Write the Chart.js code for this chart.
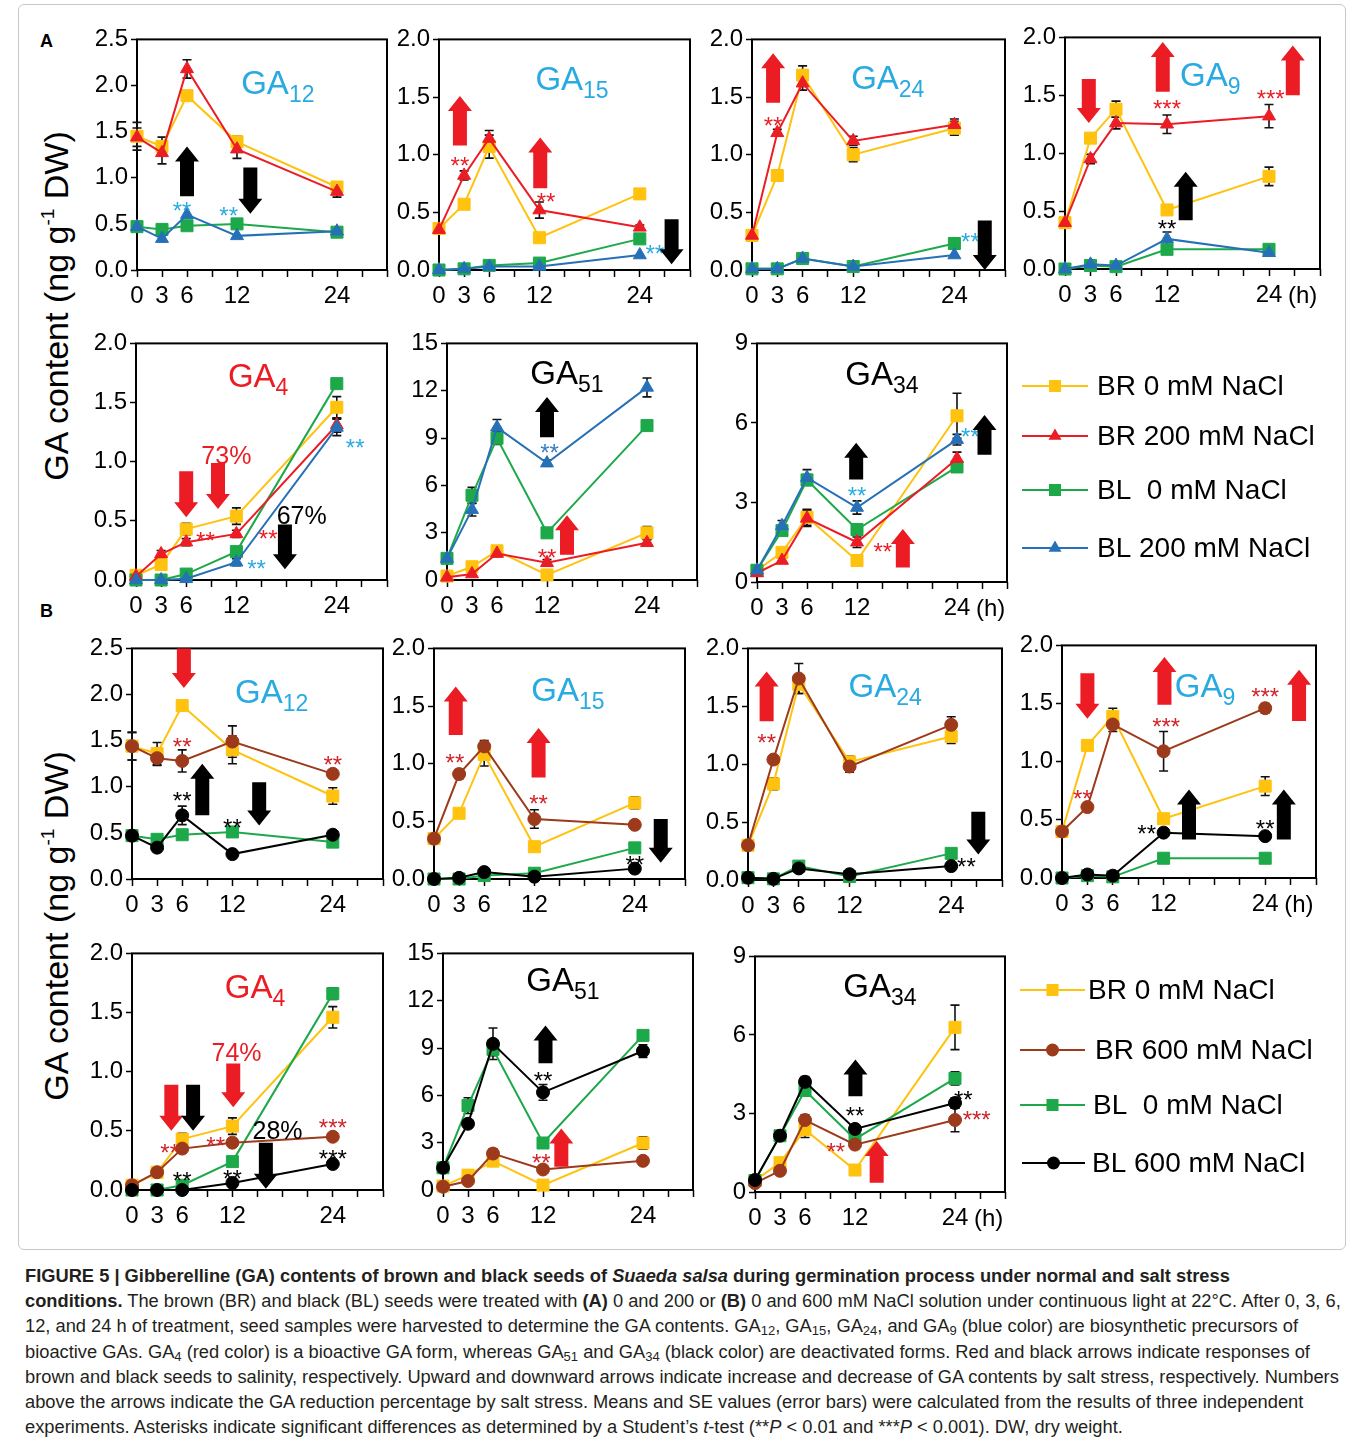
<!DOCTYPE html>
<html>
<head>
<meta charset="utf-8">
<script src="https://cdn.jsdelivr.net/npm/chart.js@4.4.1/dist/chart.umd.min.js"></script>
<style>
  body { margin: 0; background: #fff; width: 1358px; height: 1442px; position: relative; overflow: hidden;
         font-family: "Liberation Sans", Arial, Helvetica, sans-serif; }
  canvas { position: absolute; }
  .frame { position: absolute; left: 18px; top: 4px; width: 1326px; height: 1244px; border: 1px solid #c8c8c8; border-radius: 6px; }
  .plabel { position: absolute; font-weight: bold; font-size: 18px; }
  .ytitle { position: absolute; transform: translate(-50%, -50%) rotate(-90deg); white-space: nowrap; font-size: 34px; line-height: 1; }
  .ytitle span { font-size: 19px; position: relative; top: -14px; }
  #cap { position: absolute; left: 25px; top: 1263px; font-size: 18.3px; line-height: 25.2px; color: #231f20; white-space: nowrap; }
  #cap sub { font-size: 13px; vertical-align: -3px; line-height: 0; }
</style>
</head>
<body>
<div class="frame"></div>
<div class="plabel" style="left:40px;top:31px">A</div>
<div class="plabel" style="left:40px;top:601px">B</div>
<div class="ytitle" style="left:56px;top:306px">GA content (ng g<span>-1</span> DW)</div>
<div class="ytitle" style="left:56px;top:926px">GA content (ng g<span>-1</span> DW)</div>
<div id="cap">
  <div><b>FIGURE 5 | Gibberelline (GA) contents of brown and black seeds of <i>Suaeda salsa</i> during germination process under normal and salt stress</b></div>
  <div><b>conditions.</b> The brown (BR) and black (BL) seeds were treated with <b>(A)</b> 0 and 200 or <b>(B)</b> 0 and 600 mM NaCl solution under continuous light at 22°C. After 0, 3, 6,</div>
  <div>12, and 24 h of treatment, seed samples were harvested to determine the GA contents. GA<sub>12</sub>, GA<sub>15</sub>, GA<sub>24</sub>, and GA<sub>9</sub> (blue color) are biosynthetic precursors of</div>
  <div>bioactive GAs. GA<sub>4</sub> (red color) is a bioactive GA form, whereas GA<sub>51</sub> and GA<sub>34</sub> (black color) are deactivated forms. Red and black arrows indicate responses of</div>
  <div>brown and black seeds to salinity, respectively. Upward and downward arrows indicate increase and decrease of GA contents by salt stress, respectively. Numbers</div>
  <div>above the arrows indicate the GA reduction percentage by salt stress. Means and SE values (error bars) were calculated from the results of three independent</div>
  <div>experiments. Asterisks indicate significant differences as determined by a Student’s <i>t</i>-test (**<i>P</i> &lt; 0.01 and ***<i>P</i> &lt; 0.001). DW, dry weight.</div>
</div>
<script>
// --- data ---
const hours = [0, 3, 6, 12, 24];
const xLabels = [0, 3, 6, 12, 24];

// A: 0 / 200 mM NaCl
const A_GA12_BR0 = [1.45, 1.34, 1.89, 1.39, 0.90];
const A_GA12_BR200 = [1.44, 1.27, 2.18, 1.31, 0.85];
const A_GA12_BL0 = [0.47, 0.44, 0.48, 0.50, 0.41];
const A_GA12_BL200 = [0.47, 0.34, 0.60, 0.37, 0.42];
const A_GA12_BR0_se = [0.15, 0.10, 0.05, 0.06, 0.05];
const A_GA12_BR200_se = [0.10, 0.12, 0.10, 0.10, 0.06];

const A_GA15_BR0 = [0.36, 0.57, 1.07, 0.28, 0.66];
const A_GA15_BR200 = [0.35, 0.82, 1.14, 0.52, 0.37];
const A_GA15_BL0 = [0.00, 0.01, 0.04, 0.06, 0.27];
const A_GA15_BL200 = [0.00, 0.01, 0.03, 0.03, 0.13];
const A_GA15_BR0_se = [0.02, 0.03, 0.10, 0.02, 0.04];
const A_GA15_BR200_se = [0.02, 0.04, 0.07, 0.07, 0.02];

const A_GA24_BR0 = [0.30, 0.82, 1.69, 1.00, 1.23];
const A_GA24_BR200 = [0.30, 1.19, 1.62, 1.12, 1.26];
const A_GA24_BL0 = [0.01, 0.01, 0.10, 0.03, 0.23];
const A_GA24_BL200 = [0.01, 0.01, 0.10, 0.03, 0.13];
const A_GA24_BR0_se = [0.02, 0.05, 0.08, 0.06, 0.06];
const A_GA24_BR200_se = [0.02, 0.03, 0.06, 0.04, 0.05];

const A_GA9_BR0 = [0.40, 1.13, 1.38, 0.51, 0.80];
const A_GA9_BR200 = [0.40, 0.95, 1.26, 1.25, 1.32];
const A_GA9_BL0 = [0.00, 0.03, 0.02, 0.17, 0.17];
const A_GA9_BL200 = [0.00, 0.04, 0.03, 0.26, 0.14];
const A_GA9_BR0_se = [0.02, 0.03, 0.07, 0.03, 0.08];
const A_GA9_BR200_se = [0.02, 0.04, 0.05, 0.08, 0.10];
const A_GA9_BL200_se = [0.00, 0.01, 0.01, 0.06, 0.02];

const A_GA4_BR0 = [0.04, 0.13, 0.43, 0.54, 1.46];
const A_GA4_BR200 = [0.03, 0.22, 0.32, 0.39, 1.31];
const A_GA4_BL0 = [0.00, 0.00, 0.05, 0.24, 1.66];
const A_GA4_BL200 = [0.00, 0.00, 0.01, 0.15, 1.29];
const A_GA4_BR0_se = [0.01, 0.03, 0.05, 0.07, 0.09];
const A_GA4_BR200_se = [0.01, 0.03, 0.03, 0.03, 0.06];
const A_GA4_BL0_se = [0.00, 0.00, 0.01, 0.02, 0.04];
const A_GA4_BL200_se = [0.00, 0.00, 0.01, 0.03, 0.07];

const A_GA51_BR0 = [0.25, 0.84, 1.85, 0.32, 2.99];
const A_GA51_BR200 = [0.17, 0.38, 1.68, 1.09, 2.36];
const A_GA51_BL0 = [1.37, 5.37, 8.99, 2.99, 9.79];
const A_GA51_BL200 = [1.37, 4.46, 9.68, 7.41, 12.21];
const A_GA51_BR0_se = [0.1, 0.2, 0.2, 0.1, 0.4];
const A_GA51_BR200_se = [0.1, 0.1, 0.2, 0.2, 0.2];
const A_GA51_BL0_se = [0.1, 0.5, 0.4, 0.2, 0.3];
const A_GA51_BL200_se = [0.1, 0.4, 0.5, 0.2, 0.6];

const A_GA34_BR0 = [0.44, 1.12, 2.44, 0.81, 6.27];
const A_GA34_BR200 = [0.34, 0.81, 2.40, 1.50, 4.65];
const A_GA34_BL0 = [0.44, 1.94, 3.85, 1.98, 4.34];
const A_GA34_BL200 = [0.44, 2.12, 3.94, 2.81, 5.37];
const A_GA34_BR0_se = [0.05, 0.10, 0.30, 0.10, 0.85];
const A_GA34_BR200_se = [0.05, 0.10, 0.30, 0.20, 0.25];
const A_GA34_BL0_se = [0.05, 0.15, 0.20, 0.10, 0.20];
const A_GA34_BL200_se = [0.05, 0.20, 0.30, 0.25, 0.20];

// B: 0 / 600 mM NaCl
const B_GA12_BR0 = [1.44, 1.36, 1.88, 1.40, 0.90];
const B_GA12_BR600 = [1.44, 1.31, 1.28, 1.49, 1.14];
const B_GA12_BL0 = [0.47, 0.43, 0.48, 0.51, 0.40];
const B_GA12_BL600 = [0.47, 0.34, 0.69, 0.27, 0.48];
const B_GA12_BR0_se = [0.15, 0.12, 0.05, 0.15, 0.09];
const B_GA12_BR600_se = [0.15, 0.08, 0.12, 0.17, 0.03];
const B_GA12_BL600_se = [0.02, 0.02, 0.10, 0.01, 0.02];

const B_GA15_BR0 = [0.35, 0.57, 1.08, 0.28, 0.66];
const B_GA15_BR600 = [0.35, 0.91, 1.15, 0.52, 0.47];
const B_GA15_BL0 = [0.00, 0.00, 0.03, 0.05, 0.27];
const B_GA15_BL600 = [0.00, 0.01, 0.06, 0.02, 0.09];
const B_GA15_BR0_se = [0.02, 0.03, 0.10, 0.02, 0.05];
const B_GA15_BR600_se = [0.02, 0.04, 0.05, 0.08, 0.01];

const B_GA24_BR0 = [0.30, 0.83, 1.69, 1.02, 1.24];
const B_GA24_BR600 = [0.30, 1.04, 1.74, 0.98, 1.34];
const B_GA24_BL0 = [0.02, 0.01, 0.12, 0.03, 0.23];
const B_GA24_BL600 = [0.02, 0.01, 0.10, 0.05, 0.12];
const B_GA24_BR0_se = [0.02, 0.05, 0.08, 0.05, 0.06];
const B_GA24_BR600_se = [0.02, 0.02, 0.13, 0.05, 0.07];

const B_GA9_BR0 = [0.40, 1.14, 1.39, 0.51, 0.79];
const B_GA9_BR600 = [0.40, 0.61, 1.32, 1.09, 1.46];
const B_GA9_BL0 = [0.00, 0.02, 0.01, 0.17, 0.17];
const B_GA9_BL600 = [0.00, 0.03, 0.02, 0.39, 0.36];
const B_GA9_BR0_se = [0.02, 0.02, 0.07, 0.02, 0.08];
const B_GA9_BR600_se = [0.02, 0.02, 0.06, 0.17, 0.04];

const B_GA4_BR0 = [0.04, 0.15, 0.43, 0.54, 1.46];
const B_GA4_BR600 = [0.04, 0.15, 0.35, 0.40, 0.45];
const B_GA4_BL0 = [0.00, 0.00, 0.04, 0.24, 1.66];
const B_GA4_BL600 = [0.00, 0.00, 0.00, 0.06, 0.22];
const B_GA4_BR0_se = [0.01, 0.02, 0.05, 0.07, 0.09];
const B_GA4_BL0_se = [0.00, 0.00, 0.00, 0.02, 0.05];

const B_GA51_BR0 = [0.25, 0.94, 1.83, 0.31, 2.98];
const B_GA51_BR600 = [0.21, 0.57, 2.31, 1.30, 1.85];
const B_GA51_BL0 = [1.41, 5.35, 8.92, 2.98, 9.80];
const B_GA51_BL600 = [1.41, 4.20, 9.27, 6.19, 8.81];
const B_GA51_BR0_se = [0.1, 0.2, 0.2, 0.1, 0.4];
const B_GA51_BR600_se = [0.1, 0.1, 0.3, 0.2, 0.2];
const B_GA51_BL0_se = [0.1, 0.5, 0.4, 0.2, 0.3];
const B_GA51_BL600_se = [0.1, 0.2, 1.0, 0.5, 0.4];

const B_GA34_BR0 = [0.44, 1.12, 2.38, 0.84, 6.29];
const B_GA34_BR600 = [0.34, 0.81, 2.75, 1.81, 2.75];
const B_GA34_BL0 = [0.44, 2.15, 3.88, 2.02, 4.34];
const B_GA34_BL600 = [0.46, 2.15, 4.21, 2.41, 3.40];
const B_GA34_BR0_se = [0.05, 0.10, 0.30, 0.10, 0.85];
const B_GA34_BR600_se = [0.05, 0.10, 0.20, 0.10, 0.45];
const B_GA34_BL0_se = [0.05, 0.10, 0.20, 0.10, 0.25];
const B_GA34_BL600_se = [0.05, 0.10, 0.20, 0.15, 0.20];

// --- styles ---
const FONT = '"Liberation Sans", Arial, Helvetica, sans-serif';
const YELLOW = '#FFC20E', RED = '#EC1C24', GREEN = '#1DA94A', BLUE = '#2670B7',
      BROWN = '#9C3A1B', BLACK = '#000000', CYAN = '#29ABE2', DRED = '#D1232A';

const STY = {
  BR0:   { color: YELLOW, shape: 'rect', r: 8.5, order: 4, label: 'BR 0 mM NaCl' },
  BR200: { color: RED, shape: 'triangle', r: 7.5, order: 2, label: 'BR 200 mM NaCl' },
  BL0:   { color: GREEN, shape: 'rect', r: 8.5, order: 3, label: 'BL  0 mM NaCl' },
  BL200: { color: BLUE, shape: 'triangle', r: 7.5, order: 1, label: 'BL 200 mM NaCl' },
  BR600: { color: BROWN, shape: 'circle', r: 6.5, order: 2, label: 'BR 600 mM NaCl' },
  BL600: { color: BLACK, shape: 'circle', r: 6.5, order: 1, label: 'BL 600 mM NaCl' }
};

// annotation helpers (data coordinates)
const ar = (x, tail, tip, c) => ({ kind: 'arrow', x, tail, tip, c });
const tx = (x, y, t, c, s) => ({ kind: 'text', x, y, t, c, s: s || 24 });

const panels = [
  { box: [137, 38, 387, 270], yMax: 2.5, yStep: 0.5, dec: 1, name: '12', tc: CYAN, tpos: [16.9, 2.04],
    series: [['BR0', A_GA12_BR0, A_GA12_BR0_se], ['BR200', A_GA12_BR200, A_GA12_BR200_se], ['BL0', A_GA12_BL0], ['BL200', A_GA12_BL200]],
    notes: [ar(6, 0.80, 1.34, BLACK), ar(13.6, 1.11, 0.61, BLACK), tx(5.4, 0.70, '**', CYAN), tx(11, 0.65, '**', CYAN)] },
  { box: [439, 38, 690, 270], yMax: 2, yStep: 0.5, dec: 1, name: '15', tc: CYAN, tpos: [15.9, 1.66],
    series: [['BR0', A_GA15_BR0, A_GA15_BR0_se], ['BR200', A_GA15_BR200, A_GA15_BR200_se], ['BL0', A_GA15_BL0], ['BL200', A_GA15_BL200]],
    notes: [ar(2.5, 1.08, 1.51, RED), tx(2.5, 0.95, '**', RED), ar(12.1, 0.71, 1.15, RED), tx(12.8, 0.64, '**', RED),
            tx(25.8, 0.19, '**', CYAN), ar(27.8, 0.44, 0.05, BLACK)] },
  { box: [752, 38, 1005, 270], yMax: 2, yStep: 0.5, dec: 1, name: '24', tc: CYAN, tpos: [16.1, 1.67],
    series: [['BR0', A_GA24_BR0, A_GA24_BR0_se], ['BR200', A_GA24_BR200, A_GA24_BR200_se], ['BL0', A_GA24_BL0], ['BL200', A_GA24_BL200]],
    notes: [ar(2.5, 1.45, 1.88, RED), tx(2.5, 1.30, '**', RED), tx(25.9, 0.29, '**', CYAN), ar(27.6, 0.43, 0.0, BLACK)] },
  { box: [1065, 36, 1320, 269], yMax: 2, yStep: 0.5, dec: 1, name: '9', tc: CYAN, tpos: [17.1, 1.68], h: true,
    series: [['BR0', A_GA9_BR0, A_GA9_BR0_se], ['BR200', A_GA9_BR200, A_GA9_BR200_se], ['BL0', A_GA9_BL0], ['BL200', A_GA9_BL200, A_GA9_BL200_se]],
    notes: [ar(2.8, 1.64, 1.26, RED), ar(11.5, 1.53, 1.96, RED), tx(12, 1.43, '***', RED), ar(14.2, 0.42, 0.84, BLACK),
            tx(12, 0.40, '**', BLACK), tx(24.2, 1.52, '***', RED), ar(26.8, 1.50, 1.93, RED)] },
  { box: [136, 342, 387, 580], yMax: 2, yStep: 0.5, dec: 1, name: '4', tc: RED, tpos: [14.6, 1.73],
    series: [['BR0', A_GA4_BR0, A_GA4_BR0_se], ['BR200', A_GA4_BR200, A_GA4_BR200_se], ['BL0', A_GA4_BL0, A_GA4_BL0_se], ['BL200', A_GA4_BL200, A_GA4_BL200_se]],
    notes: [ar(6, 0.92, 0.53, RED), ar(9.8, 0.99, 0.60, RED), tx(10.8, 1.06, '73%', RED, 25), tx(8.3, 0.38, '**', RED),
            tx(15.8, 0.40, '**', RED), tx(14.4, 0.14, '**', CYAN), tx(19.8, 0.55, '67%', BLACK, 25), ar(17.8, 0.47, 0.09, BLACK),
            tx(26.2, 1.17, '**', CYAN)] },
  { box: [447, 342, 697, 580], yMax: 15, yStep: 3, dec: 0, name: '51', tc: BLACK, tpos: [14.4, 13.2],
    series: [['BR0', A_GA51_BR0, A_GA51_BR0_se], ['BR200', A_GA51_BR200, A_GA51_BR200_se], ['BL0', A_GA51_BL0, A_GA51_BL0_se], ['BL200', A_GA51_BL200, A_GA51_BL200_se]],
    notes: [ar(12, 9.05, 11.6, BLACK), tx(12.3, 8.4, '**', '#3A7CC2'), ar(14.4, 1.6, 4.1, RED), tx(12, 1.79, '**', RED)] },
  { box: [757, 342, 1007, 582], yMax: 9, yStep: 3, dec: 0, name: '34', tc: BLACK, tpos: [15, 7.88], h: true,
    series: [['BR0', A_GA34_BR0, A_GA34_BR0_se], ['BR200', A_GA34_BR200, A_GA34_BR200_se], ['BL0', A_GA34_BL0, A_GA34_BL0_se], ['BL200', A_GA34_BL200, A_GA34_BL200_se]],
    notes: [ar(11.9, 3.87, 5.25, BLACK), tx(12, 3.45, '**', CYAN), ar(17.5, 0.55, 2.0, RED), tx(15.1, 1.34, '**', RED),
            tx(25.6, 5.69, '**', CYAN), ar(27.3, 4.8, 6.3, BLACK)] },

  { box: [132, 647, 383, 879], yMax: 2.5, yStep: 0.5, dec: 1, name: '12', tc: CYAN, tpos: [16.7, 2.04],
    series: [['BR0', B_GA12_BR0, B_GA12_BR0_se], ['BR600', B_GA12_BR600, B_GA12_BR600_se], ['BL0', B_GA12_BL0], ['BL600', B_GA12_BL600, B_GA12_BL600_se]],
    notes: [ar(6.2, 2.5, 2.07, RED), tx(6, 1.50, '**', DRED), ar(8.4, 0.69, 1.25, BLACK), tx(6, 0.91, '**', BLACK),
            ar(15.2, 1.05, 0.58, BLACK), tx(12, 0.62, '**', BLACK), tx(24, 1.30, '**', DRED)] },
  { box: [434, 647, 685, 879], yMax: 2, yStep: 0.5, dec: 1, name: '15', tc: CYAN, tpos: [16.0, 1.65],
    series: [['BR0', B_GA15_BR0, B_GA15_BR0_se], ['BR600', B_GA15_BR600, B_GA15_BR600_se], ['BL0', B_GA15_BL0], ['BL600', B_GA15_BL600]],
    notes: [ar(2.6, 1.25, 1.67, RED), tx(2.5, 1.06, '**', DRED), ar(12.5, 0.88, 1.31, RED), tx(12.5, 0.70, '**', DRED),
            ar(27.1, 0.52, 0.14, BLACK), tx(24, 0.17, '**', BLACK)] },
  { box: [748, 647, 1002, 880], yMax: 2, yStep: 0.5, dec: 1, name: '24', tc: CYAN, tpos: [16.2, 1.68],
    series: [['BR0', B_GA24_BR0, B_GA24_BR0_se], ['BR600', B_GA24_BR600, B_GA24_BR600_se], ['BL0', B_GA24_BL0], ['BL600', B_GA24_BL600]],
    notes: [ar(2.2, 1.37, 1.80, RED), tx(2.2, 1.23, '**', DRED), ar(27.2, 0.59, 0.22, BLACK), tx(25.8, 0.16, '**', BLACK)] },
  { box: [1062, 644, 1316, 878], yMax: 2, yStep: 0.5, dec: 1, name: '9', tc: CYAN, tpos: [16.9, 1.66], h: true,
    series: [['BR0', B_GA9_BR0, B_GA9_BR0_se], ['BR600', B_GA9_BR600, B_GA9_BR600_se], ['BL0', B_GA9_BL0], ['BL600', B_GA9_BL600]],
    notes: [ar(3.0, 1.76, 1.37, RED), tx(2.4, 0.73, '**', DRED), ar(12.1, 1.49, 1.90, RED), tx(12.3, 1.35, '***', DRED),
            tx(24, 1.61, '***', DRED), ar(28.0, 1.35, 1.79, RED), ar(15.0, 0.33, 0.76, BLACK), tx(10, 0.43, '**', BLACK),
            ar(26.2, 0.33, 0.76, BLACK), tx(24, 0.47, '**', BLACK)] },
  { box: [132, 952, 383, 1190], yMax: 2, yStep: 0.5, dec: 1, name: '4', tc: RED, tpos: [14.7, 1.72],
    series: [['BR0', B_GA4_BR0, B_GA4_BR0_se], ['BR600', B_GA4_BR600], ['BL0', B_GA4_BL0, B_GA4_BL0_se], ['BL600', B_GA4_BL600]],
    notes: [ar(4.7, 0.89, 0.50, RED), ar(7.3, 0.89, 0.50, BLACK), ar(12.1, 1.07, 0.70, RED), tx(12.5, 1.17, '74%', RED, 25),
            tx(4.5, 0.36, '**', DRED), tx(10, 0.42, '**', DRED), tx(17.4, 0.51, '28%', BLACK, 25), ar(16.0, 0.40, 0.01, BLACK),
            tx(6, 0.13, '**', BLACK), tx(12, 0.14, '**', BLACK), tx(24, 0.57, '***', DRED), tx(24, 0.31, '***', BLACK)] },
  { box: [443, 952, 693, 1190], yMax: 15, yStep: 3, dec: 0, name: '51', tc: BLACK, tpos: [14.4, 13.4],
    series: [['BR0', B_GA51_BR0, B_GA51_BR0_se], ['BR600', B_GA51_BR600, B_GA51_BR600_se], ['BL0', B_GA51_BL0, B_GA51_BL0_se], ['BL600', B_GA51_BL600, B_GA51_BL600_se]],
    notes: [ar(12.3, 8.03, 10.43, BLACK), tx(12, 7.28, '**', BLACK), ar(14.2, 1.47, 3.9, RED), tx(11.8, 2.1, '**', DRED)] },
  { box: [755, 955, 1005, 1192], yMax: 9, yStep: 3, dec: 0, name: '34', tc: BLACK, tpos: [15, 7.9], h: true,
    series: [['BR0', B_GA34_BR0, B_GA34_BR0_se], ['BR600', B_GA34_BR600, B_GA34_BR600_se], ['BL0', B_GA34_BL0, B_GA34_BL0_se], ['BL600', B_GA34_BL600, B_GA34_BL600_se]],
    notes: [ar(12.05, 3.66, 5.06, BLACK), tx(12, 3.13, '**', BLACK), tx(25, 3.75, '**', BLACK), tx(26.6, 2.96, '***', DRED),
            tx(9.7, 1.75, '**', DRED), ar(14.6, 0.35, 1.95, RED)] }
];

// --- drawing helpers ---
function blockArrow(ctx, px, yTail, yTip, color) {
  const dir = yTip < yTail ? -1 : 1;
  const sw = 7, hw = 12, hl = 15;
  const neck = yTip - dir * hl;
  ctx.fillStyle = color;
  ctx.beginPath();
  ctx.moveTo(px - sw, yTail);
  ctx.lineTo(px - sw, neck);
  ctx.lineTo(px - hw, neck);
  ctx.lineTo(px, yTip);
  ctx.lineTo(px + hw, neck);
  ctx.lineTo(px + sw, neck);
  ctx.lineTo(px + sw, yTail);
  ctx.closePath();
  ctx.fill();
}

function marker(ctx, shape, x, y, r, color) {
  ctx.fillStyle = color;
  ctx.beginPath();
  if (shape === 'rect') {
    const h = r * Math.SQRT1_2;
    ctx.rect(x - h, y - h, 2 * h, 2 * h);
  } else if (shape === 'triangle') {
    ctx.moveTo(x, y - r);
    ctx.lineTo(x + r * 0.866, y + r / 2);
    ctx.lineTo(x - r * 0.866, y + r / 2);
    ctx.closePath();
  } else {
    ctx.arc(x, y, r, 0, Math.PI * 2);
  }
  ctx.fill();
}

const framePlugin = {
  id: 'frame',
  beforeDatasetsDraw(chart) {
    const a = chart.chartArea, ctx = chart.ctx;
    ctx.save();
    ctx.strokeStyle = '#000';
    ctx.lineWidth = 2;
    ctx.strokeRect(a.left, a.top, a.right - a.left, a.bottom - a.top);
    ctx.restore();
  }
};

const errPlugin = {
  id: 'errBars',
  beforeDatasetsDraw(chart) {
    const ctx = chart.ctx, xs = chart.scales.x, ys = chart.scales.y;
    ctx.save();
    ctx.strokeStyle = '#111';
    ctx.lineWidth = 1.6;
    chart.data.datasets.forEach(ds => {
      if (!ds.err) return;
      ds.data.forEach((pt, i) => {
        const e = ds.err[i];
        if (!e) return;
        const px = xs.getPixelForValue(pt.x);
        const y1 = ys.getPixelForValue(pt.y - e), y2 = ys.getPixelForValue(pt.y + e);
        ctx.beginPath();
        ctx.moveTo(px, y1); ctx.lineTo(px, y2);
        ctx.moveTo(px - 4.5, y1); ctx.lineTo(px + 4.5, y1);
        ctx.moveTo(px - 4.5, y2); ctx.lineTo(px + 4.5, y2);
        ctx.stroke();
      });
    });
    ctx.restore();
  }
};

function notesPlugin(p) {
  return {
    id: 'notes',
    afterDatasetsDraw(chart) {
      const ctx = chart.ctx, xs = chart.scales.x, ys = chart.scales.y, a = chart.chartArea;
      ctx.save();
      p.notes.forEach(n => {
        const px = xs.getPixelForValue(n.x);
        if (n.kind === 'arrow') {
          blockArrow(ctx, px, ys.getPixelForValue(n.tail), ys.getPixelForValue(n.tip), n.c);
        } else {
          ctx.fillStyle = n.c;
          ctx.textAlign = 'center';
          ctx.textBaseline = 'alphabetic';
          ctx.font = n.s + 'px ' + FONT;
          const py = ys.getPixelForValue(n.y);
          const lift = n.t.indexOf('*') === 0 ? 0.58 : 0.36;
          ctx.fillText(n.t, px, py + lift * n.s);
        }
      });
      // title GA + subscript
      const big = 33, small = 23;
      ctx.textAlign = 'left';
      ctx.textBaseline = 'alphabetic';
      ctx.font = big + 'px ' + FONT;
      const w1 = ctx.measureText('GA').width;
      ctx.font = small + 'px ' + FONT;
      const w2 = ctx.measureText(p.name).width;
      const cx = xs.getPixelForValue(p.tpos[0]) - (w1 + w2) / 2;
      const base = ys.getPixelForValue(p.tpos[1]) + 0.36 * big;
      ctx.fillStyle = p.tc;
      ctx.font = big + 'px ' + FONT;
      ctx.fillText('GA', cx, base);
      ctx.font = small + 'px ' + FONT;
      ctx.fillText(p.name, cx + w1, base + 8);
      if (p.h) {
        ctx.fillStyle = '#000';
        ctx.font = '24px ' + FONT;
        ctx.textBaseline = 'middle';
        ctx.fillText('(h)', xs.getPixelForValue(24) + 19, a.bottom + 27);
      }
      ctx.restore();
    }
  };
}

const padL = 64, padT = 16, padR = 16, padB = 46;

function makePanel(p) {
  const w = p.box[2] - p.box[0], h = p.box[3] - p.box[1];
  const cv = document.createElement('canvas');
  cv.width = w + padL + padR;
  cv.height = h + padT + padB;
  cv.style.left = (p.box[0] - padL) + 'px';
  cv.style.top = (p.box[1] - padT) + 'px';
  cv.style.width = cv.width + 'px';
  cv.style.height = cv.height + 'px';
  document.body.appendChild(cv);

  const yTicks = [];
  for (let v = 0; v <= p.yMax + 1e-9; v += p.yStep) yTicks.push(+v.toFixed(2));

  new Chart(cv, {
    type: 'line',
    data: {
      datasets: p.series.map(([key, vals, se]) => ({
        label: STY[key].label,
        data: hours.map((hr, i) => ({ x: hr, y: vals[i] })),
        err: se,
        order: STY[key].order,
        borderColor: STY[key].color,
        backgroundColor: STY[key].color,
        pointBackgroundColor: STY[key].color,
        pointBorderColor: STY[key].color,
        pointBorderWidth: 1,
        pointStyle: STY[key].shape,
        pointRadius: STY[key].r,
        borderWidth: 2,
        tension: 0,
        clip: false
      }))
    },
    options: {
      responsive: false,
      animation: false,
      events: [],
      layout: { padding: { left: 0, top: padT, right: padR, bottom: 0 } },
      plugins: { legend: { display: false }, tooltip: { enabled: false } },
      scales: {
        x: {
          type: 'linear', min: 0, max: 30,
          afterBuildTicks: s => { s.ticks = []; for (let v = 0; v <= 30; v += 3) s.ticks.push({ value: v }); },
          afterFit: s => { s.height = padB; },
          ticks: { autoSkip: false, maxRotation: 0, padding: 5, color: '#000', font: { family: FONT, size: 24 },
                   callback: v => xLabels.includes(v) ? String(v) : '' },
          grid: { drawOnChartArea: false, drawTicks: true, tickLength: 7, tickColor: '#000', tickWidth: 1.5 },
          border: { display: false }
        },
        y: {
          type: 'linear', min: 0, max: p.yMax,
          afterBuildTicks: s => { s.ticks = yTicks.map(v => ({ value: v })); },
          afterFit: s => { s.width = padL; },
          ticks: { padding: 3, color: '#000', font: { family: FONT, size: 24 }, callback: v => Number(v).toFixed(p.dec) },
          grid: { drawOnChartArea: false, drawTicks: true, tickLength: 6, tickColor: '#000', tickWidth: 1.5 },
          border: { display: false }
        }
      }
    },
    plugins: [framePlugin, errPlugin, notesPlugin(p)]
  });
}

panels.forEach(makePanel);

// --- legends ---
function drawLegend(left, top, items) {
  const cv = document.createElement('canvas');
  cv.width = 340; cv.height = 230;
  cv.style.left = left + 'px'; cv.style.top = top + 'px';
  document.body.appendChild(cv);
  const ctx = cv.getContext('2d');
  items.forEach(it => {
    const s = STY[it.key];
    const y = it.y - top;
    ctx.strokeStyle = s.color;
    ctx.lineWidth = 2;
    ctx.beginPath();
    ctx.moveTo(it.x0 - left, y); ctx.lineTo(it.x1 - left, y);
    ctx.stroke();
    marker(ctx, s.shape, (it.x0 + it.x1) / 2 - left, y, s.r, s.color);
    ctx.fillStyle = '#000';
    ctx.font = '28px ' + FONT;
    ctx.textBaseline = 'middle';
    ctx.fillText(s.label, it.tx - left, y + 1);
  });
}

drawLegend(1010, 360, [
  { key: 'BR0', y: 386, x0: 1022, x1: 1088, tx: 1097 },
  { key: 'BR200', y: 436, x0: 1022, x1: 1088, tx: 1097 },
  { key: 'BL0', y: 490, x0: 1022, x1: 1088, tx: 1097 },
  { key: 'BL200', y: 548, x0: 1022, x1: 1088, tx: 1097 }
]);
drawLegend(1010, 965, [
  { key: 'BR0', y: 990, x0: 1020, x1: 1085, tx: 1088 },
  { key: 'BR600', y: 1050, x0: 1020, x1: 1085, tx: 1095 },
  { key: 'BL0', y: 1105, x0: 1020, x1: 1085, tx: 1093 },
  { key: 'BL600', y: 1163, x0: 1022, x1: 1085, tx: 1092 }
]);
</script>
</body>
</html>
